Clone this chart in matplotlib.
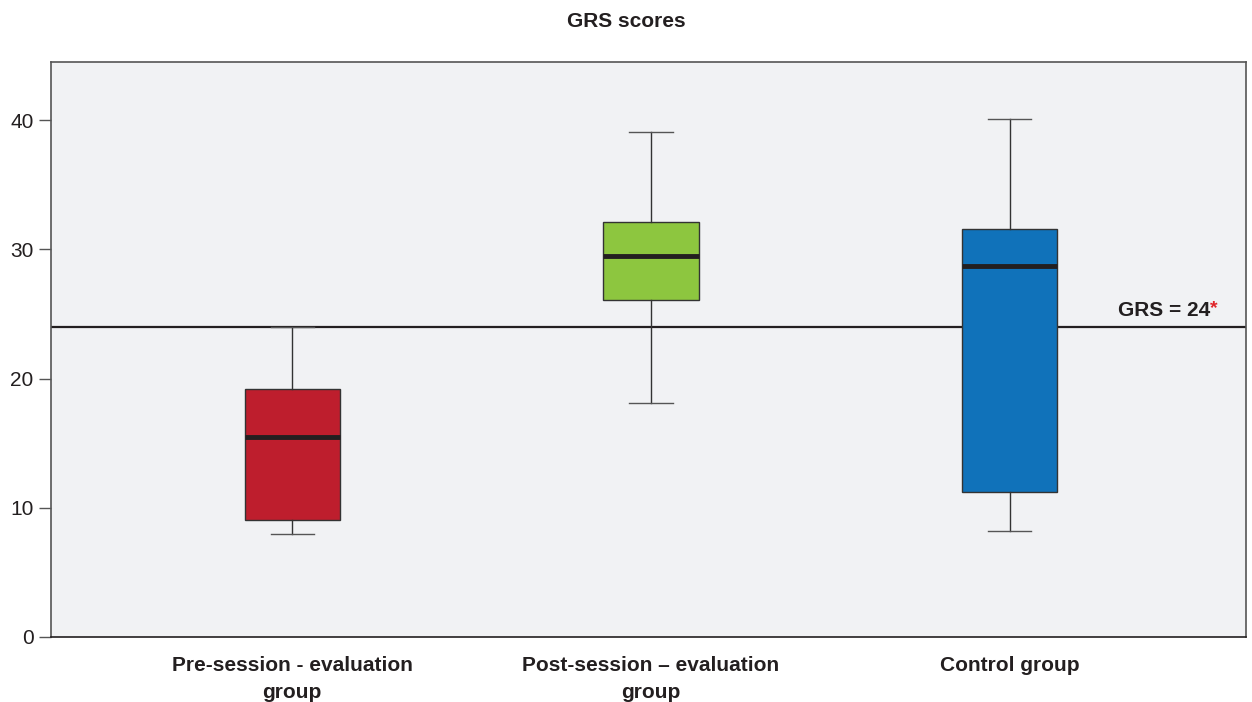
import matplotlib.pyplot as plt

plt.rcParams["font.family"] = ["Liberation Sans", "DejaVu Sans"]

groups = ["Pre-session - evaluation\ngroup", "Post-session \u2013 evaluation\ngroup", "Control group"]
whisker_low = [8.0, 18.1, 8.2]
q1 = [9.05, 26.1, 11.2]
median = [15.5, 29.5, 28.7]
q3 = [19.2, 32.1, 31.55]
whisker_high = [24.0, 39.1, 40.1]
colors = ["#be1e2d", "#8dc63f", "#1072ba"]
cutoff = 24


def main():
    fig = plt.figure(figsize=(12.52, 7.02), dpi=100)
    ax = fig.add_axes([0.0407, 0.0926, 0.9545, 0.8191])
    ax.set_facecolor("#f1f2f4")

    stats = []
    for i in range(len(groups)):
        stats.append({"whislo": whisker_low[i], "q1": q1[i], "med": median[i],
                      "q3": q3[i], "whishi": whisker_high[i], "fliers": []})

    bp = ax.bxp(stats, positions=[1, 2, 3], widths=0.265, patch_artist=True,
                showfliers=False,
                boxprops=dict(edgecolor="#333333", linewidth=1),
                whiskerprops=dict(color="#333333", linewidth=1),
                capprops=dict(color="#555555", linewidth=1),
                medianprops=dict(color="#231f20", linewidth=3.5),
                capwidths=0.12, zorder=3)
    for patch, c in zip(bp["boxes"], colors):
        patch.set_facecolor(c)

    ax.axhline(cutoff, color="#231f20", linewidth=1.6, zorder=2)
    t = ax.text(3.30, cutoff + 0.5, "GRS = 24", fontsize=15, fontweight="bold",
                color="#231f20", ha="left", va="bottom")
    ax.annotate("*", xy=(1, 0.15), xycoords=t, fontsize=14, fontweight="bold",
                color="#e0262b", ha="left", va="bottom")

    ax.set_xlim(0.328, 3.658)
    ax.set_ylim(0, 44.5)
    ax.set_yticks([0, 10, 20, 30, 40])
    ax.set_xticks([1, 2, 3])
    ax.set_xticklabels(groups, fontsize=15, fontweight="bold", color="#231f20",
                       linespacing=1.5)
    ax.tick_params(axis="x", length=0, pad=14)
    ax.tick_params(axis="y", length=8.5, width=1, color="#555555",
                   labelcolor="#231f20", labelsize=15, pad=4)
    for s in ax.spines.values():
        s.set_color("#555555")
        s.set_linewidth(1.2)
    ax.spines["bottom"].set_color("#231f20")

    fig.suptitle("GRS scores", x=0.5, y=0.983, fontsize=15, fontweight="bold",
                 color="#231f20")

    fig.savefig("out.png", dpi=100)
    plt.close(fig)


if __name__ == "__main__":
    main()
